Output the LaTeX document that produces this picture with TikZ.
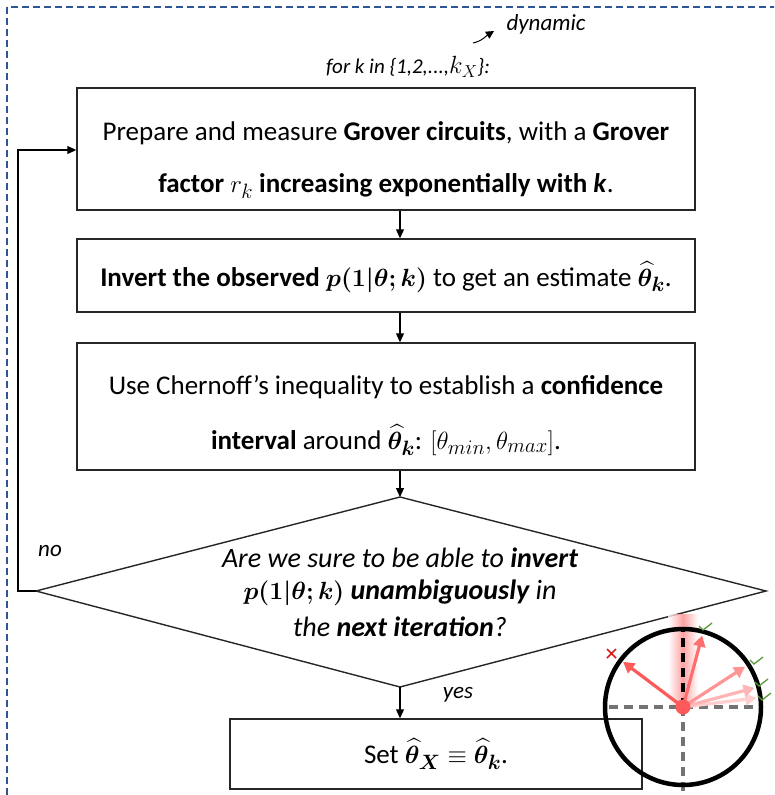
\documentclass[tikz,border=0pt]{standalone}
\usepackage{amsmath,bm}
\usepackage{fontspec}
\setmainfont{Carlito}
\usetikzlibrary{arrows.meta}
\definecolor{frameblue}{HTML}{2F5597}
\definecolor{arrred}{HTML}{FF5A5A}
\definecolor{chkgreen}{HTML}{5B9B3A}
\definecolor{crossred}{HTML}{D81E1E}
\newcommand{\mth}[1]{{\fontsize{31}{32}\selectfont$#1$}}
\newcommand{\mths}[1]{{\fontsize{24}{26}\selectfont$#1$}}
\tikzset{
  box/.style={draw=black!85, line width=1.4pt, minimum width=618pt, inner sep=0pt},
  flow/.style={line width=1.1pt, -{Triangle[length=9pt,width=8pt]}},
  txt/.style={font=\fontsize{27}{32}\selectfont, align=center, inner sep=0pt},
  qtxt/.style={font=\fontsize{28}{33}\selectfont\itshape, align=center, inner sep=0pt},
  lbl/.style={font=\fontsize{23}{27}\selectfont\itshape, inner sep=0pt},
  vec/.style={line width=3.2pt, -{Triangle[length=11pt,width=12pt]}},
}
\begin{document}
\begin{tikzpicture}[x=1pt,y=-1pt]
\useasboundingbox (0,0) rectangle (774,795);
\clip (0,0) rectangle (774,795);
\fill[white] (0,0) rectangle (774,795);
% frame
\draw[frameblue, line width=2pt, dash pattern=on 7pt off 4pt] (7,7) rectangle (800,820);

% labels on top
\node[lbl] (dyn) at (546,24) {dynamic};
\node[lbl, font=\fontsize{21}{25}\selectfont\itshape] (forl) at (408,67) {for k in \{1,2,...,\mths{k_X}\}:};
\coordinate (ca) at (473,43);
\coordinate (cb) at (494,31);
\draw[line width=1pt, -{Triangle[length=8pt,width=8pt]}] (ca) .. controls (482,41) and (486,36) .. (cb);

% boxes
\node[box, minimum height=122pt] (b1) at (386,149) {};
\node[txt] (t1a) at (386,133) {Prepare and measure \textbf{Grover circuits}, with a \textbf{Grover}};
\node[txt] (t1b) at (386,186) {\textbf{factor} \mth{r_k} \textbf{increasing exponentially with \textit{k}}.};

\node[box, minimum height=73pt] (b2) at (386,275.5) {};
\node[txt] (t2) at (386,277) {\textbf{Invert the observed} \mth{\bm{p(1|\theta;k)}} to get an estimate \mth{\widehat{\bm{\theta}}_{\bm{k}}}.};

\node[box, minimum height=127pt] (b3) at (386,406.5) {};
\node[txt] (t3a) at (386,387) {Use Chernoff's inequality to establish a \textbf{confidence}};
\node[txt] (t3b) at (386,440) {\textbf{interval} around \mth{\widehat{\bm{\theta}}_{\bm{k}}}: \mth{[\theta_{min},\theta_{max}]}.};

% diamond
\coordinate (dT) at (400,497);
\coordinate (dR) at (766,591);
\coordinate (dB) at (400,687);
\coordinate (dL) at (36,591);
\draw[black!85, line width=1.4pt] (dT) -- (dR) -- (dB) -- (dL) -- cycle;
\node[qtxt] (q1) at (400,558) {Are we sure to be able to \textbf{invert}};
\node[qtxt] (q2) at (400,593) {\mth{\bm{p(1|\theta;k)}} \textbf{unambiguously} in};
\node[qtxt] (q3) at (400,627) {the \textbf{next iteration}?};

\node[box, minimum width=412pt, minimum height=70pt] (b4) at (436,754) {};
\node[txt] (t4) at (436,754) {Set \mth{\widehat{\bm{\theta}}_{\bm{X}}\equiv\widehat{\bm{\theta}}_{\bm{k}}}.};

% connectors
\draw[flow] (b1.south -| 400,0) -- (b2.north -| 400,0);
\draw[flow] (b2.south -| 400,0) -- (b3.north -| 400,0);
\draw[flow] (b3.south -| 400,0) -- (dT);
\draw[flow] (dB) -- (b4.north -| 400,0);
\draw[flow] (dL) -- (18,591) |- (b1.west |- 0,150);
\node[lbl] (no) at (50,551) {no};
\node[lbl] (yes) at (458,695) {yes};

% circle diagram
\coordinate (O) at (683,707);
\shade[left color=white, right color=red!45, opacity=0.8] (668,614) rectangle (683,707);
\shade[left color=red!45, right color=white, opacity=0.8] (683,614) rectangle (698,707);
\draw[black!55, line width=4pt, dash pattern=on 9pt off 6pt] (609,707) -- (759,707);
\draw[black!55, line width=4pt, dash pattern=on 9pt off 6pt] (O) -- (683,800);
\draw[black, line width=4pt, dash pattern=on 9pt off 6pt] (O) -- (683,629);
\draw[vec, arrred!30] (O) -- ++(-7:74);
\draw[vec, arrred!45] (O) -- ++(-15:74);
\draw[vec, arrred!65] (O) -- ++(-33:74);
\draw[vec, arrred!88] (O) -- ++(-75:74);
\draw[vec, arrred] (O) -- ++(-143:75);
\draw[black, line width=4.5pt] (O) circle (78);
\fill[arrred] (O) circle (7.5);
% marks
\draw[crossred, line width=1.6pt] (607,649) -- (616,658) (616,649) -- (607,658);
\foreach \p in {(705,626),(756,660),(761,682),(764,696)}{
  \draw[chkgreen, line width=1.3pt] \p ++(-6,0) -- ++(4,4) -- ++(9,-7);
}
\end{tikzpicture}
\end{document}
